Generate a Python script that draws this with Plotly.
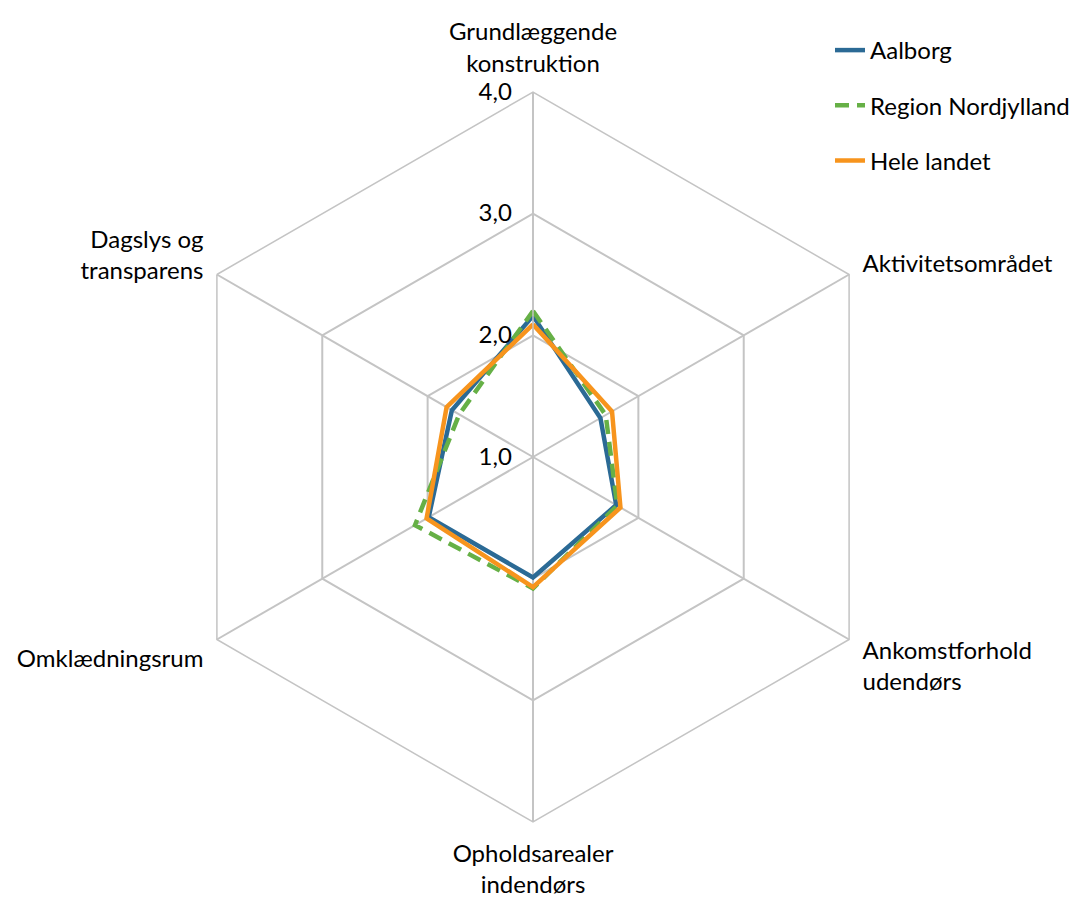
import plotly.graph_objects as go

categories = ["Grundlæggende<br>konstruktion", "Aktivitetsområdet", "Ankomstforhold<br>udendørs",
              "Opholdsarealer<br>indendørs", "Omklædningsrum", "Dagslys og<br>transparens"]
aalborg = [2.16, 1.64, 1.79, 1.99, 1.99, 1.77]
region = [2.20, 1.69, 1.80, 2.08, 2.12, 1.70]
hele_landet = [2.09, 1.75, 1.83, 2.07, 2.01, 1.82]
radial_ticks = [1, 2, 3, 4]

series = [
    ("Aalborg", aalborg, "#2b6a95", "solid"),
    ("Region Nordjylland", region, "#66b046", "14px,8px"),
    ("Hele landet", hele_landet, "#f7941d", "solid"),
]

fig = go.Figure()
for i, (name, vals, color, dash) in enumerate(series):
    fig.add_trace(go.Scatterpolar(
        r=vals + vals[:1],
        theta=categories + categories[:1],
        mode="lines",
        name=name,
        legendgroup=str(i),
        line=dict(color=color, width=4.5, dash=dash),
    ))

# page body adds an 8px offset; compensate
W, H = 1083, 899
cx, cy, R = 525, 449, 365
grid = "#c4c4c4"
fig.update_layout(
    width=W, height=H,
    margin=dict(l=0, r=0, t=0, b=0),
    paper_bgcolor="white", plot_bgcolor="white",
    font=dict(family="Lato, Open Sans, sans-serif", size=24, color="black"),
    separators=",.",
    polar=dict(
        domain=dict(x=[(cx - R) / W, (cx + R) / W],
                    y=[(H - cy - R) / H, (H - cy + R) / H]),
        gridshape="linear",
        bgcolor="white",
        radialaxis=dict(
            range=[1, 4], tickvals=radial_ticks, tickformat=".1f",
            angle=90, tickangle=90, side="counterclockwise",
            showline=True, linecolor=grid, linewidth=1.5,
            gridcolor=grid, gridwidth=1.5,
            ticks="outside", ticklen=12, tickcolor="rgba(0,0,0,0)",
            tickfont=dict(size=24),
        ),
        angularaxis=dict(
            rotation=90, direction="clockwise", showline=True, linecolor=grid,
            linewidth=1.5, gridcolor=grid, gridwidth=1.5,
            ticks="outside", ticklen=10, tickcolor="rgba(0,0,0,0)",
            tickfont=dict(size=24),
        ),
    ),
    legend=dict(
        x=822 / W, y=(H - 20) / H, xanchor="left", yanchor="top",
        font=dict(size=24), tracegroupgap=21, bgcolor="rgba(0,0,0,0)",
    ),
)

fig.write_html("out.html")
